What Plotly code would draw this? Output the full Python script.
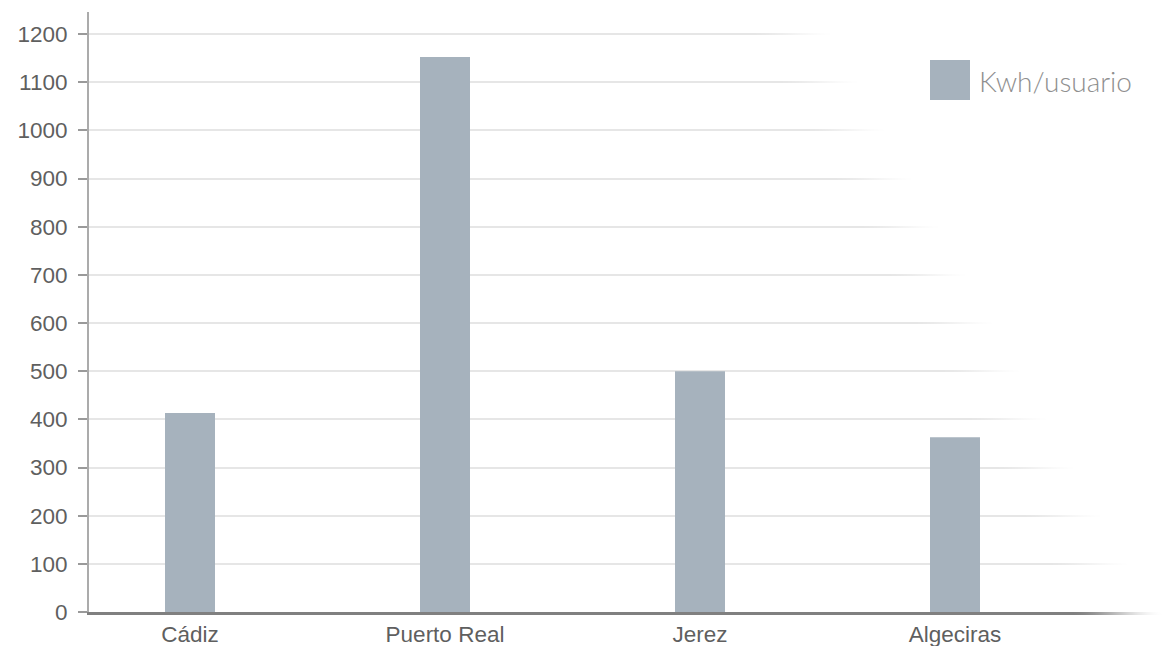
import base64
import struct
import zlib

import numpy as np
import plotly.graph_objects as go

# ---------------- data ----------------
categories = ["Cádiz", "Puerto Real", "Jerez", "Algeciras"]
kwh_usuario = [413, 1152, 500, 363]
series_name = "Kwh/usuario"
y_ticks = [0, 100, 200, 300, 400, 500, 600, 700, 800, 900, 1000, 1100, 1200]

# ---------------- style ----------------
BAR_COLOR = "#a6b2bd"
W, H = 1164, 646
M_L, M_R, M_T, M_B = 89, 0, 12, 34
PLOT_W = W - M_L - M_R
PLOT_H = H - M_T - M_B


def png_rgba(arr):
    h, w, _ = arr.shape
    raw = b"".join(b"\x00" + arr[i].tobytes() for i in range(h))

    def chunk(t, d):
        c = struct.pack(">I", len(d)) + t + d
        return c + struct.pack(">I", zlib.crc32(t + d) & 0xFFFFFFFF)

    return (b"\x89PNG\r\n\x1a\n"
            + chunk(b"IHDR", struct.pack(">IIBBBBB", w, h, 8, 6, 0, 0, 0))
            + chunk(b"IDAT", zlib.compress(raw, 9))
            + chunk(b"IEND", b""))


# white diagonal fade overlay on the right side of the plot
OV_X0, OV_Y0, OV_X1, OV_Y1 = 700, 0, W, 622
ow, oh = OV_X1 - OV_X0, OV_Y1 - OV_Y0
px = OV_X0 + np.arange(ow)[None, :] + 0.5
py = OV_Y0 + np.arange(oh)[:, None] + 0.5
fade_end = 840 + (py - 34) * 0.56
fade_w = 95.0
t = np.clip((px - (fade_end - fade_w)) / fade_w, 0, 1)
alpha = t * t * (3 - 2 * t)
img = np.zeros((oh, ow, 4), dtype=np.uint8)
img[..., 0:3] = 255
img[..., 3] = (alpha * 255).astype(np.uint8)
overlay_uri = "data:image/png;base64," + base64.b64encode(png_rgba(img)).decode()

fig = go.Figure()
fig.add_trace(go.Bar(
    x=list(range(len(categories))),
    y=kwh_usuario,
    name=series_name,
    marker=dict(color=BAR_COLOR, line=dict(width=0)),
    width=50 / 255,
    showlegend=False,
))

fig.update_layout(
    width=W, height=H,
    margin=dict(l=M_L, r=M_R, t=M_T, b=M_B, pad=0),
    paper_bgcolor="white",
    plot_bgcolor="white",
    font=dict(family="Liberation Sans, Arial, sans-serif", color="#5f5f5f"),
    xaxis=dict(
        range=[-101 / 255, (W - M_R - 190) / 255],
        tickmode="array",
        tickvals=list(range(len(categories))),
        ticktext=categories,
        tickfont=dict(size=22.5, color="#5f5f5f"),
        showgrid=False,
        zeroline=False,
        showline=True, linecolor="#808080", linewidth=2.5,
        ticks="",
        ticklabelstandoff=0,
    ),
    yaxis=dict(
        range=[0, (PLOT_H) / (578 / 1200)],
        tickmode="array",
        tickvals=y_ticks,
        ticktext=[str(v) for v in y_ticks],
        tickfont=dict(size=22.5, color="#5f5f5f"),
        showgrid=True, gridcolor="#e6e6e6", gridwidth=1.5,
        zeroline=False,
        showline=True, linecolor="#ababab", linewidth=2,
        ticks="outside", ticklen=9, tickcolor="#9a9a9a", tickwidth=1.5,
        ticklabelstandoff=6,
    ),
    images=[dict(
        source=overlay_uri,
        xref="paper", yref="paper",
        x=(OV_X0 - M_L) / PLOT_W,
        y=(H - M_B - OV_Y0) / PLOT_H,
        sizex=ow / PLOT_W, sizey=oh / PLOT_H,
        xanchor="left", yanchor="top",
        sizing="stretch", layer="above",
    )],
    shapes=[dict(
        type="rect", xref="paper", yref="paper",
        x0=(930 - M_L) / PLOT_W, x1=(970 - M_L) / PLOT_W,
        y0=(H - M_B - 100) / PLOT_H, y1=(H - M_B - 60) / PLOT_H,
        fillcolor=BAR_COLOR, line=dict(width=0), layer="above",
    )],
    annotations=[dict(
        text=series_name, xref="paper", yref="paper",
        x=(977 - M_L) / PLOT_W, y=(H - M_B - 81) / PLOT_H,
        xanchor="left", yanchor="middle", showarrow=False,
        font=dict(family="Lato, Open Sans, sans-serif", size=28, color="#8f8f8f", weight=300),
    )],
)

fig.write_html(
    "out.html",
    config={"displayModeBar": False},
    post_script="document.body.style.margin='0';document.body.style.overflow='hidden';",
)
